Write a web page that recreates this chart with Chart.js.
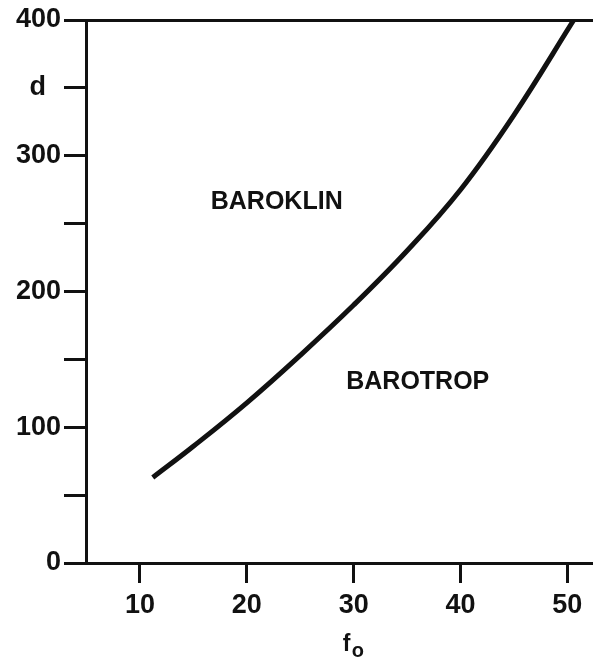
<!DOCTYPE html>
<html>
<head>
<meta charset="utf-8">
<script src="https://cdn.jsdelivr.net/npm/chart.js@4"></script>
<style>
    html, body { margin: 0; padding: 0; background: #fff; }
    #wrap { width: 593px; height: 659px; position: relative; }
</style>
</head>
<body>
<div id="wrap"><canvas id="chart"></canvas></div>
<script>
// curve d(f0): boundary between baroclinic and barotropic regimes
const fValues = [11.2, 15, 20, 25, 30, 35, 40, 45, 50.6];
const dValues = [63, 86, 118, 153, 190, 230, 275, 330, 400];

// tick labels
const xTicks = [10, 20, 30, 40, 50];
const yTickLabels = { 0: '0', 100: '100', 200: '200', 300: '300', 350: 'd  ', 400: '400' };

// region labels
const regionLabels = [
    { text: 'BAROKLIN', x: 22.8, y: 266 },
    { text: 'BAROTROP', x: 36.0, y: 133 },
];

const FONT = '"Liberation Sans", Arial, sans-serif';
const INK = '#111';

const overlay = {
    id: 'overlay',
    afterDraw(chart) {
        const ctx = chart.ctx;
        const xs = chart.scales.x;
        const ys = chart.scales.y;
        ctx.save();
        ctx.fillStyle = INK;
        ctx.textAlign = 'center';
        ctx.textBaseline = 'middle';
        ctx.font = 'bold 25px ' + FONT;
        regionLabels.forEach(l => {
            ctx.fillText(l.text, xs.getPixelForValue(l.x), ys.getPixelForValue(l.y));
        });

        // axis title f with subscript o
        const cx = xs.getPixelForValue(30);
        ctx.textAlign = 'left';
        ctx.textBaseline = 'alphabetic';
        ctx.font = 'bold 23px ' + FONT;
        ctx.fillText('f', cx - 11, 651);
        ctx.font = 'bold 20px ' + FONT;
        ctx.fillText('o', cx - 2, 657);
        ctx.restore();
    }
};

new Chart(document.getElementById('chart').getContext('2d'), {
    type: 'line',
    data: {
        datasets: [{
            data: fValues.map((f, i) => ({ x: f, y: dValues[i] })),
            borderColor: INK,
            borderWidth: 5,
            pointRadius: 0,
            tension: 0.4,
            borderCapStyle: 'butt',
            fill: false,
        }]
    },
    options: {
        responsive: true,
        maintainAspectRatio: false,
        animation: false,
        layout: { padding: { top: 20, right: 0, left: 0, bottom: 0 } },
        plugins: {
            legend: { display: false },
            tooltip: { enabled: false },
        },
        scales: {
            x: {
                type: 'linear',
                position: 'bottom',
                min: 4.95,
                max: 52.4,
                afterBuildTicks: scale => { scale.ticks = xTicks.map(v => ({ value: v })); },
                afterFit: scale => { scale.height = 96; },
                border: { display: true, color: INK, width: 3 },
                grid: {
                    drawOnChartArea: false,
                    drawTicks: true,
                    tickLength: 20,
                    tickWidth: 3,
                    color: INK,
                },
                ticks: {
                    color: INK,
                    padding: 6,
                    maxRotation: 0,
                    font: { family: FONT, size: 27, weight: 'bold' },
                },
            },
            xTop: {
                type: 'linear',
                position: 'top',
                min: 4.95,
                max: 52.4,
                afterFit: scale => { scale.height = 0; },
                border: { display: true, color: INK, width: 3 },
                grid: { display: false, drawTicks: false },
                ticks: { display: false },
            },
            y: {
                type: 'linear',
                min: 0,
                max: 400,
                afterBuildTicks: scale => {
                    const t = [];
                    for (let v = 0; v <= 400; v += 50) t.push({ value: v });
                    scale.ticks = t;
                },
                afterFit: scale => { scale.width = 86; },
                border: { display: true, color: INK, width: 3 },
                grid: {
                    drawOnChartArea: false,
                    drawTicks: true,
                    tickLength: 22,
                    tickWidth: 3,
                    color: INK,
                },
                ticks: {
                    color: INK,
                    padding: 3,
                    font: { family: FONT, size: 27, weight: 'bold' },
                    callback: v => yTickLabels[v] !== undefined ? yTickLabels[v] : '',
                },
            },
        },
    },
    plugins: [overlay],
});
</script>
</body>
</html>
